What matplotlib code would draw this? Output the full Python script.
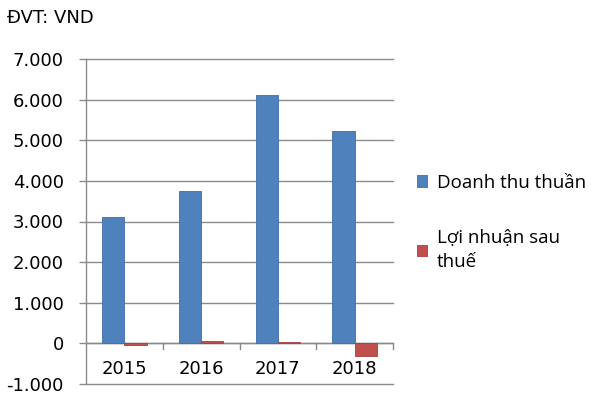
import matplotlib
matplotlib.use("Agg")
import matplotlib.pyplot as plt
import numpy as np

years = ["2015", "2016", "2017", "2018"]
doanh_thu = [3110, 3740, 6110, 5240]
loi_nhuan = [-40, 65, 45, -310]
series_labels = ["Doanh thu thuần", "Lợi nhuận sau\nthuế"]
yticks = [-1000, 0, 1000, 2000, 3000, 4000, 5000, 6000, 7000]
ytick_labels = ["-1.000", "0", "1.000", "2.000", "3.000", "4.000", "5.000", "6.000", "7.000"]

plt.rcParams['font.family'] = ['DejaVu Sans']
FS = 13
fig = plt.figure(figsize=(6, 4), dpi=100)
ax = fig.add_axes([86/600, 16/400, (393-86)/600, (384-59)/400])

x = np.arange(len(years))
w = 0.29
b1 = ax.bar(x - w/2, doanh_thu, w, color="#4F81BD", edgecolor="#3f6ea6", linewidth=0.6,
            label=series_labels[0], zorder=3)
b2 = ax.bar(x + w/2, loi_nhuan, w, color="#C0504D", edgecolor="#a2403d", linewidth=0.6,
            label=series_labels[1], zorder=3)

ax.set_xlim(-0.5, 3.5)
ax.set_ylim(-1000, 7000)
ax.set_yticks(yticks)
ax.set_yticklabels(ytick_labels, fontsize=FS)
ax.yaxis.grid(True, color="#8a8a8a", linewidth=1.0, zorder=0)
for gl in ax.get_ygridlines():
    gl.set_clip_on(False)
ax.set_axisbelow(True)
for s in ["top", "right", "bottom"]:
    ax.spines[s].set_visible(False)
ax.spines["left"].set_color("#8a8a8a")
ax.spines["left"].set_linewidth(1.0)
ax.tick_params(axis="y", length=5, color="#8a8a8a", width=1.0, pad=11)

# x axis: zero line with category-boundary ticks
ax.set_xticks(x)
ax.set_xticklabels([])
ax.tick_params(axis="x", length=0)
ax.axhline(0, color="#8a8a8a", linewidth=1.0, zorder=2)
for bnd in np.arange(0.5, 4.0, 1.0):
    ax.plot([bnd, bnd], [0, -150], color="#8a8a8a", linewidth=1.0, clip_on=False, zorder=2)
for xi, lab in zip(x, years):
    ax.text(xi, -640, lab, ha="center", va="center", fontsize=FS)

fig.text(7/600, 1 - 18/400, "ĐVT: VND", ha="left", va="center", fontsize=FS)

leg = fig.legend(handles=[b1, b2], labels=series_labels, loc="upper left",
                 bbox_to_anchor=(409/600, 1 - 166/400), frameon=False,
                 prop={"family": ["Open Sans", "DejaVu Sans"], "size": 13.5},
                 handlelength=0.55, handleheight=0.55, handletextpad=0.55,
                 labelspacing=2.0, borderaxespad=0)
for t in leg.get_texts():
    t.set_linespacing(1.45)

fig.savefig("out.png", dpi=100)
